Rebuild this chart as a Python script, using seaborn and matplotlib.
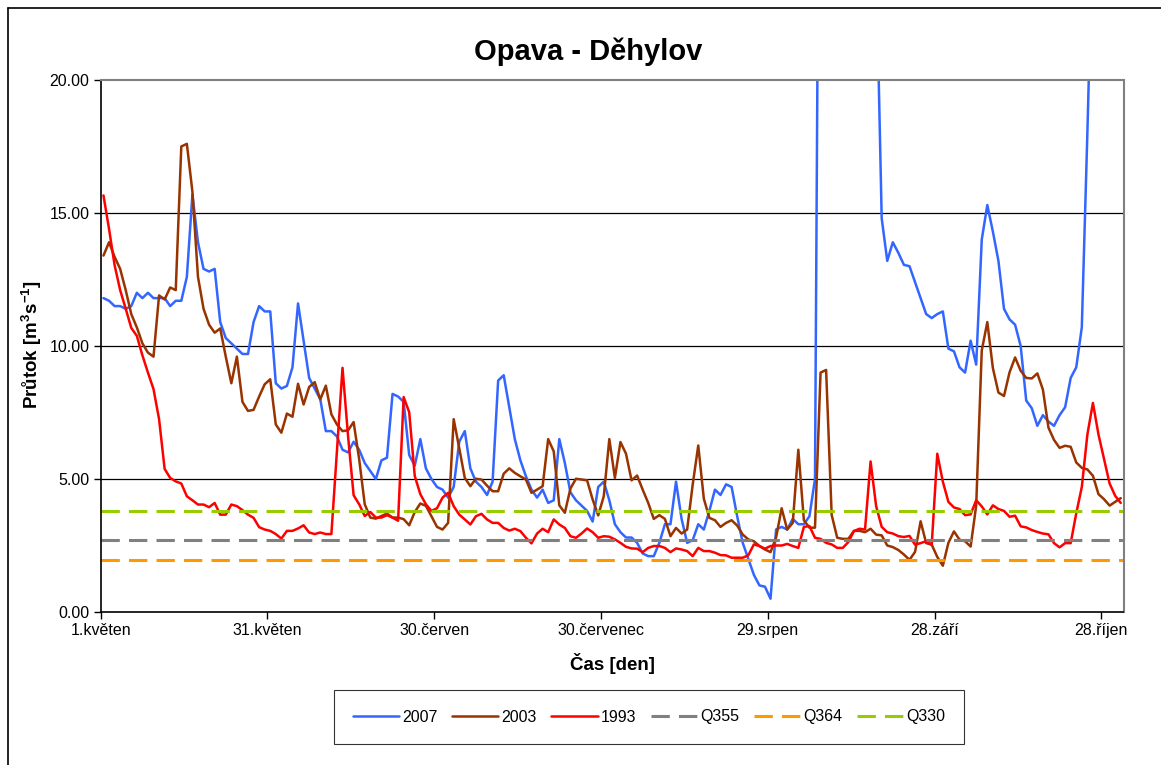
import numpy as np
import pandas as pd
import seaborn as sns
import matplotlib.pyplot as plt

# daily discharge, 1 May - 31 Oct (184 days)
q2007 = [
    11.8, 11.7, 11.5, 11.5, 11.4, 11.5, 12.0, 11.8, 12.0, 11.8,
    11.8, 11.8, 11.5, 11.7, 11.7, 12.6, 15.7, 13.9, 12.9, 12.8,
    12.9, 10.9, 10.3, 10.1, 9.9, 9.7, 9.7, 10.9, 11.5, 11.3,
    11.3, 8.6, 8.4, 8.5, 9.2, 11.6, 10.2, 8.8, 8.4, 8.0,
    6.8, 6.8, 6.6, 6.1, 6.0, 6.4, 6.1, 5.6, 5.3, 5.0,
    5.7, 5.8, 8.2, 8.1, 7.9, 5.9, 5.5, 6.5, 5.4, 5.0,
    4.7, 4.6, 4.3, 4.7, 6.4, 6.8, 5.4, 4.9, 4.7, 4.4,
    4.9, 8.7, 8.9, 7.7, 6.5, 5.7, 5.1, 4.6, 4.3, 4.6,
    4.1, 4.2, 6.5, 5.6, 4.5, 4.2, 4.0, 3.8, 3.4, 4.7,
    4.9, 4.2, 3.3, 3.0, 2.8, 2.8, 2.6, 2.2, 2.1, 2.1,
    2.6, 3.3, 3.3, 4.9, 3.5, 2.6, 2.7, 3.3, 3.1, 3.8,
    4.6, 4.4, 4.8, 4.7, 3.6, 2.6, 2.0, 1.4, 1.0, 0.95,
    0.5, 3.1, 3.2, 3.1, 3.5, 3.3, 3.3, 3.6, 5.0, 40.0,
    55.0, 60.0, 52.0, 45.0, 40.0, 36.0, 32.0, 29.0, 27.0, 24.5,
    14.8, 13.2, 13.9, 13.5, 13.05, 13.0, 12.4, 11.8, 11.2, 11.05,
    11.2, 11.3, 9.9, 9.8, 9.2, 9.0, 10.2, 9.3, 14.0, 15.3,
    14.3, 13.2, 11.4, 11.0, 10.8, 10.0, 7.95, 7.66, 7.0, 7.4,
    7.16, 7.0, 7.4, 7.7, 8.8, 9.2, 10.7, 18.0, 26.0, 32.0,
    36.0, 38.0, 37.0, 35.0,
]
q2003 = [
    13.4, 13.9, 13.35, 12.9, 12.1, 11.2, 10.7, 10.1, 9.75, 9.6,
    11.9, 11.75, 12.2, 12.1, 17.5, 17.6, 15.8, 12.6, 11.4, 10.8,
    10.5, 10.66, 9.6, 8.6, 9.6, 7.9, 7.56, 7.6, 8.1, 8.56,
    8.75, 7.05, 6.74, 7.46, 7.34, 8.58, 7.8, 8.46, 8.64, 7.99,
    8.51, 7.43, 7.05, 6.8, 6.83, 7.14, 5.74, 4.05, 3.55, 3.51,
    3.61, 3.7, 3.55, 3.55, 3.49, 3.26, 3.76, 4.08, 3.99, 3.6,
    3.2, 3.1, 3.35, 7.25, 6.16, 5.04, 4.73, 5.01, 4.98, 4.75,
    4.54, 4.54, 5.2, 5.4, 5.23, 5.1, 4.98, 4.48, 4.6, 4.73,
    6.5, 6.04, 4.01, 3.73, 4.64, 5.01, 4.98, 4.95, 4.23, 3.63,
    4.35, 6.5, 5.04, 6.39, 5.95, 4.95, 5.13, 4.6, 4.1, 3.5,
    3.64, 3.5, 2.85, 3.16, 2.95, 3.1, 4.79, 6.26, 4.26, 3.54,
    3.45, 3.2, 3.35, 3.45, 3.25, 2.91, 2.73, 2.66, 2.48, 2.35,
    2.25, 2.8, 3.9, 3.1, 3.35, 6.1, 3.45, 3.17, 3.17, 9.0,
    9.1, 3.65, 2.79, 2.75, 2.75, 3.05, 3.05, 3.0, 3.13, 2.91,
    2.88, 2.5, 2.44, 2.33, 2.16, 1.96, 2.26, 3.41, 2.59, 2.53,
    2.07, 1.74, 2.6, 3.03, 2.72, 2.66, 2.46, 4.0, 9.83, 10.9,
    9.17, 8.25, 8.12, 9.01, 9.57, 9.07, 8.8, 8.78, 8.97, 8.36,
    6.93, 6.47, 6.17, 6.25, 6.21, 5.62, 5.42, 5.36, 5.12, 4.43,
    4.24, 4.0, 4.14, 4.28,
]
q1993 = [
    15.66, 14.4, 13.04, 12.1, 11.4, 10.68, 10.38, 9.65, 9.0, 8.38,
    7.25, 5.38, 5.04, 4.91, 4.83, 4.35, 4.2, 4.04, 4.04, 3.94,
    4.1, 3.66, 3.66, 4.04, 3.98, 3.83, 3.66, 3.54, 3.19, 3.1,
    3.05, 2.93, 2.76, 3.05, 3.05, 3.14, 3.26, 2.99, 2.93, 2.99,
    2.93, 2.93, 6.05, 9.18, 6.61, 4.39, 4.05, 3.61, 3.76, 3.55,
    3.55, 3.64, 3.55, 3.43, 8.08, 7.51, 5.11, 4.43, 4.05, 3.8,
    3.9, 4.3, 4.48, 3.98, 3.66, 3.48, 3.29, 3.6, 3.69, 3.48,
    3.35, 3.35, 3.16, 3.06, 3.13, 3.04, 2.79, 2.58, 2.95, 3.13,
    3.0, 3.48, 3.29, 3.16, 2.85, 2.79, 2.95, 3.14, 3.0, 2.79,
    2.85, 2.83, 2.73, 2.6, 2.45, 2.39, 2.38, 2.25, 2.41, 2.48,
    2.48, 2.41, 2.25, 2.39, 2.35, 2.29, 2.1, 2.41, 2.29, 2.29,
    2.23, 2.14, 2.13, 2.04, 2.04, 2.04, 2.13, 2.54, 2.48, 2.38,
    2.48, 2.5, 2.5, 2.56, 2.48, 2.41, 3.2, 3.23, 2.79, 2.75,
    2.6, 2.54, 2.41, 2.41, 2.63, 3.04, 3.13, 3.1, 5.66, 3.98,
    3.2, 3.0, 2.95, 2.85, 2.82, 2.86, 2.53, 2.59, 2.66, 2.53,
    5.95, 4.9, 4.14, 3.93, 3.87, 3.64, 3.67, 4.2, 3.97, 3.67,
    4.01, 3.87, 3.8, 3.58, 3.62, 3.22, 3.18, 3.08, 3.01, 2.95,
    2.92, 2.59, 2.43, 2.59, 2.59, 3.71, 4.7, 6.67, 7.86, 6.67,
    5.75, 4.83, 4.37, 4.1,
]

q355 = 2.69
q364 = 1.94
q330 = 3.81

tick_days = [0, 30, 60, 90, 120, 150, 180]
tick_labels = ['1.květen', '31.květen', '30.červen', '30.červenec',
               '29.srpen', '28.září', '28.říjen']
y_ticks = [0, 5, 10, 15, 20]

days = np.arange(len(q2007)) + 0.5
df = pd.DataFrame({'den': days, '2007': q2007, '2003': q2003, '1993': q1993})

sns.set_style('white')
plt.rcParams['font.family'] = ['Liberation Sans', 'DejaVu Sans']
plt.rcParams['text.color'] = 'black'
plt.rcParams['mathtext.fontset'] = 'custom'
plt.rcParams['mathtext.rm'] = 'Liberation Sans:bold'
plt.rcParams['mathtext.bf'] = 'Liberation Sans:bold'

W, H = 1161, 765
fig = plt.figure(figsize=(W / 100, H / 100), dpi=100)
x0, x1, y0, y1 = 100.7, 1123.5, 80, 612
ax = fig.add_axes([x0 / W, 1 - y1 / H, (x1 - x0) / W, (y1 - y0) / H])

for col, color in [('2007', '#3366FF'), ('2003', '#993300'), ('1993', '#FF0000')]:
    sns.lineplot(data=df, x='den', y=col, color=color, lw=1.8, ax=ax, label=col)

for q, name, color in [(q355, 'Q355', '#808080'), (q364, 'Q364', '#FF9900'),
                       (q330, 'Q330', '#99CC00')]:
    ax.axhline(q, color=color, lw=2.2, dashes=(6, 3), label=name)

ax.set_xlim(0, 184)
ax.set_ylim(0, 20)
ax.set_xticks(tick_days)
ax.set_xticklabels(tick_labels)
ax.set_yticks(y_ticks)
ax.set_yticklabels(['%.2f' % v for v in y_ticks])
ax.tick_params(labelsize=11.5, length=5, width=1, direction='out',
               bottom=True, left=True, colors='black', pad=3)
for v in [5, 10, 15]:
    ax.axhline(v, color='black', lw=0.9, zorder=0)
ax.set_xlabel('')
ax.set_ylabel('')
for s in ['top', 'right']:
    ax.spines[s].set_color('#808080')
    ax.spines[s].set_linewidth(1.5)
for s in ['left', 'bottom']:
    ax.spines[s].set_color('black')
    ax.spines[s].set_linewidth(1.2)

fig.text(0.507, 1 - 52 / H, 'Opava - Děhylov', ha='center', va='center',
         fontsize=21, fontweight='bold', color='black')
fig.text(32 / W, 1 - 345 / H, r'Průtok [m$^{3}$s$^{-1}$]', rotation=90,
         ha='center', va='center', fontsize=13.5, fontweight='bold', color='black')
fig.text(612 / W, 1 - 664 / H, 'Čas [den]', ha='center', va='center',
         fontsize=13.5, fontweight='bold', color='black')

handles, labels = ax.get_legend_handles_labels()
ax.get_legend().remove()
leg = fig.legend(handles, labels, ncol=6, loc='center',
                 bbox_to_anchor=(649 / W, 1 - 717 / H), fontsize=11.5,
                 frameon=True, fancybox=False, edgecolor='black',
                 handlelength=2.9, handletextpad=0.2, columnspacing=0.9,
                 borderpad=1.2, labelcolor='black')
leg.get_frame().set_linewidth(0.8)

# outer chart border
fig.add_artist(plt.Line2D([8 / W, 8 / W], [0, 1 - 8 / H], color='black', lw=1.2,
                          transform=fig.transFigure))
fig.add_artist(plt.Line2D([8 / W, 1], [1 - 8 / H, 1 - 8 / H], color='black', lw=1.2,
                          transform=fig.transFigure))

fig.savefig('out.png', dpi=100)
